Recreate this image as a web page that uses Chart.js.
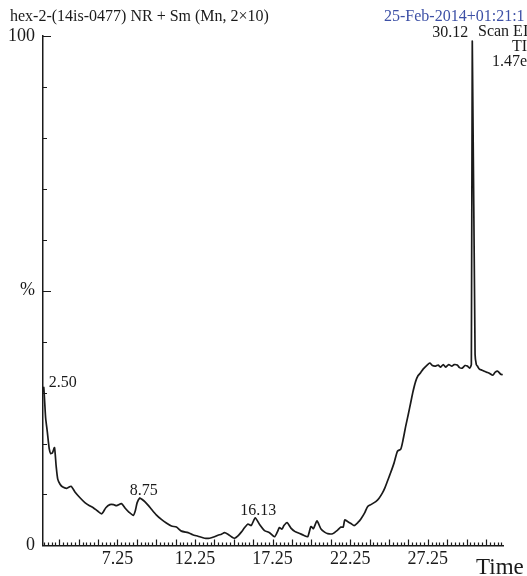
<!DOCTYPE html>
<html>
<head>
<meta charset="utf-8">
<script src="https://cdn.jsdelivr.net/npm/chart.js@4.4.1/dist/chart.umd.min.js"></script>
<style>
  html, body { margin: 0; padding: 0; background: #ffffff; }
  #wrap { width: 527px; height: 576px; position: relative; }
</style>
</head>
<body>
<div id="wrap"><canvas id="c" width="527" height="576"></canvas></div>
<script>
// ---- data ----
const retentionTimes = [
  2.46, 2.50, 2.62, 2.72, 2.85, 2.95, 3.06, 3.19, 3.30, 3.40, 3.55, 3.70, 3.98, 4.26, 4.51, 4.85,
  5.15, 5.45, 5.69, 5.95, 6.23, 6.50, 6.76, 7.00, 7.19, 7.51, 7.75, 8.00, 8.27, 8.40, 8.52, 8.69,
  8.80, 9.01, 9.25, 9.44, 9.75, 10.08, 10.40, 10.73, 11.05, 11.37, 11.80, 12.10, 12.44, 12.87, 13.19,
  13.50, 13.73, 13.95, 14.15, 14.37, 14.60, 14.79, 15.00, 15.23, 15.45, 15.66, 15.87, 16.13, 16.41,
  16.73, 17.05, 17.37, 17.55, 17.69, 17.85, 17.98, 18.18, 18.43, 18.70, 18.95, 19.25, 19.51, 19.72,
  19.88, 20.11, 20.37, 20.60, 20.80, 21.12, 21.44, 21.65, 21.80, 21.90, 22.08, 22.30, 22.51, 22.75,
  22.94, 23.20, 23.37, 23.58, 23.90, 24.10, 24.33, 24.50, 24.65, 24.85, 25.08, 25.30, 25.51, 25.65,
  25.83, 26.00, 26.15, 26.30, 26.47, 26.62, 26.79, 26.95, 27.11, 27.28, 27.39, 27.55, 27.76, 27.92,
  28.08, 28.25, 28.40, 28.60, 28.80, 28.95, 29.15, 29.30, 29.47, 29.65, 29.80, 29.95, 30.06, 30.12,
  30.30, 30.38, 30.45, 30.58, 30.75, 30.90, 31.05, 31.22, 31.44, 31.60, 31.76, 31.95, 32.08
];
const relativeAbundance = [
  30.0, 31.0, 25.0, 22.5, 19.0, 18.0, 18.2, 19.2, 15.5, 13.0, 12.0, 11.5, 11.2, 11.6, 10.5, 9.3,
  8.4, 7.8, 7.4, 6.8, 6.2, 7.4, 8.0, 8.0, 7.8, 8.2, 7.3, 6.5, 5.9, 6.8, 8.4, 9.3,
  9.1, 8.6, 7.8, 7.1, 6.0, 5.1, 4.4, 3.8, 3.6, 2.8, 2.5, 2.1, 1.8, 1.4, 1.4,
  1.7, 2.0, 2.2, 2.5, 2.2, 1.7, 1.4, 1.8, 2.6, 3.5, 4.2, 3.9, 5.4, 4.1,
  2.9, 2.5, 1.7, 2.6, 3.5, 3.2, 3.9, 4.5, 3.4, 2.7, 2.4, 2.0, 1.7, 3.7,
  3.3, 4.8, 3.2, 2.6, 2.3, 2.3, 3.0, 3.6, 3.6, 5.0, 4.7, 4.3, 3.9, 4.5,
  5.2, 6.5, 7.6, 8.0, 8.6, 9.2, 10.3, 11.4, 12.6, 14.2, 16.2, 18.5, 18.9, 20.6,
  23.4, 25.8, 28.0, 30.2, 32.2, 33.3, 33.9, 34.6, 35.1, 35.6, 35.8, 35.3, 35.2, 35.4,
  35.0, 35.5, 35.0, 35.5, 35.2, 35.5, 35.4, 34.9, 34.8, 35.3, 35.2, 34.8, 35.5, 99.0,
  37.5, 35.5, 35.2, 34.6, 34.4, 34.2, 34.0, 33.8, 33.4, 34.0, 34.2, 33.6, 33.5
];
const peakTimes = [2.50, 8.75, 16.13, 30.12];
const peakValues = [31.0, 9.3, 5.4, 99.0];
const xTickValues = [7.25, 12.25, 17.25, 22.25, 27.25];
const xTickLabels = ['7.25', '12.25', '17.25', '22.25', '27.25'];
const yTickValues = [0, 50, 100];
const yTickLabels = ['0', '%', '100'];
const titleText = 'hex-2-(14is-0477) NR + Sm (Mn, 2\u00d710)';
const dateText = '25-Feb-2014+01:21:1';
const infoLines = ['Scan EI+', 'TIC', '1.47e9'];
const xAxisTitle = 'Time';

const SERIF = '"Liberation Serif", "DejaVu Serif", serif';
const INK = '#1a1a1a';

const decorations = {
  id: 'decorations',
  afterDraw(chart) {
    const ctx = chart.ctx;
    const xs = chart.scales.x, ys = chart.scales.y;
    const area = chart.chartArea;
    ctx.save();
    ctx.strokeStyle = INK;
    ctx.lineWidth = 1.2;
    // x minor/major tick marks (pointing up into the plot)
    ctx.beginPath();
    for (let i = 0; ; i++) {
      const t = 2.5 + i * 0.25;
      if (t > xs.max) break;
      const px = Math.round(xs.getPixelForValue(t)) + 0.5;
      const k = (t - 7.25) / 1.25;
      const tall = Math.abs(k - Math.round(k)) < 1e-6;
      ctx.moveTo(px, area.bottom);
      ctx.lineTo(px, area.bottom - (tall ? 6 : 3));
    }
    ctx.stroke();
    // y tick marks (pointing right into the plot)
    ctx.beginPath();
    for (let v = 10; v <= 100; v += 10) {
      const py = Math.round(ys.getPixelForValue(v)) + 0.5;
      const long = (v === 50 || v === 100);
      ctx.moveTo(area.left, py);
      ctx.lineTo(area.left + (long ? 8 : 4), py);
    }
    ctx.stroke();

    // peak labels
    ctx.fillStyle = INK;
    ctx.font = '16px ' + SERIF;
    ctx.textBaseline = 'alphabetic';
    peakTimes.forEach((t, i) => {
      const px = xs.getPixelForValue(t);
      const py = ys.getPixelForValue(peakValues[i]);
      const label = t.toFixed(2);
      if (i === 0) {
        ctx.textAlign = 'left';
        ctx.fillText(label, px + 5, py);
      } else if (i === peakTimes.length - 1) {
        ctx.textAlign = 'right';
        ctx.fillText(label, px - 4, py - 4);
      } else {
        ctx.textAlign = 'center';
        ctx.fillText(label, px + 3, py - 3);
      }
    });

    // header texts
    ctx.textAlign = 'left';
    ctx.font = '16px ' + SERIF;
    ctx.fillStyle = INK;
    ctx.fillText(titleText, 10, 21);
    ctx.fillStyle = '#3d50a6';
    ctx.fillText(dateText, 384, 21);
    ctx.fillStyle = INK;
    ctx.fillText(infoLines[0], 478, 36);
    ctx.fillText(infoLines[1], 512, 51);
    ctx.fillText(infoLines[2], 492, 66);

    // axis title
    ctx.font = '23px ' + SERIF;
    ctx.fillText(xAxisTitle, 476, 574);
    ctx.restore();
  }
};

new Chart(document.getElementById('c'), {
  type: 'line',
  data: {
    datasets: [{
      data: retentionTimes.map((t, i) => ({ x: t, y: relativeAbundance[i] })),
      borderColor: INK,
      borderWidth: 1.7,
      pointRadius: 0,
      tension: 0.2,
      fill: false
    }]
  },
  options: {
    responsive: false,
    animation: false,
    devicePixelRatio: 1,
    layout: { padding: { left: 0, right: 24, top: 36, bottom: 3 } },
    plugins: { legend: { display: false }, tooltip: { enabled: false } },
    scales: {
      x: {
        type: 'linear',
        min: 2.45,
        max: 32.1,
        afterBuildTicks: (s) => { s.ticks = xTickValues.map(v => ({ value: v })); },
        ticks: {
          autoSkip: false,
          maxRotation: 0,
          padding: 3,
          color: INK,
          font: { family: SERIF, size: 18 },
          callback: (v) => { const i = xTickValues.indexOf(v); return i >= 0 ? xTickLabels[i] : ''; }
        },
        grid: { display: true, drawOnChartArea: false, drawTicks: false },
        border: { display: true, color: INK, width: 1.5 }
      },
      y: {
        type: 'linear',
        min: 0,
        max: 100,
        afterBuildTicks: (s) => { s.ticks = yTickValues.map(v => ({ value: v })); },
        ticks: {
          autoSkip: false,
          padding: 8,
          color: INK,
          font: { family: SERIF, size: 18 },
          callback: (v) => { const i = yTickValues.indexOf(v); return i >= 0 ? yTickLabels[i] : ''; }
        },
        grid: { display: true, drawOnChartArea: false, drawTicks: false },
        border: { display: true, color: INK, width: 1.5 }
      }
    }
  },
  plugins: [decorations]
});
</script>
</body>
</html>
